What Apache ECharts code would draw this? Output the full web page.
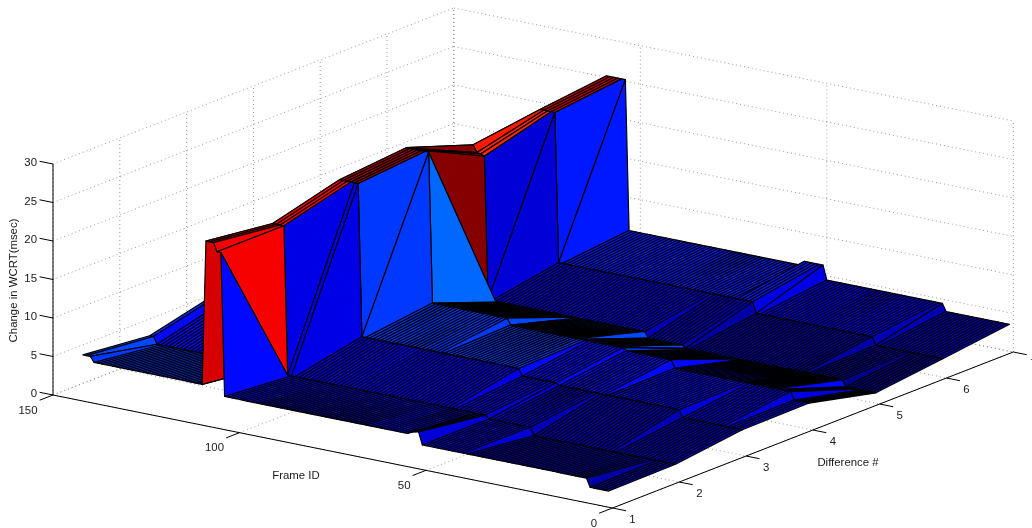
<!DOCTYPE html>
<html>
<head>
<meta charset="utf-8">
<style>html,body{margin:0;padding:0;background:#fff}#c{width:1032px;height:528px}</style>
<script src="https://cdn.jsdelivr.net/npm/echarts@6/dist/echarts.min.js"></script>
</head>
<body>
<div id="c"></div>
<script>
// ---- data: each row holds step starts (frame) and the level from that frame on
const frameMin = 1, frameMax = 142;
const differenceRows = [1, 2, 3, 4, 5, 6, 7];
const startsD1 = [0, 7, 52, 53, 54, 55, 105, 107, 110, 140];
const levelsD1 = [2.1, 3.2, 4.8, 4.7, 4.6, 4.3, 22.9, 24, 5.3, 6];
const startsD2 = [0, 40, 52, 106, 110, 141];
const levelsD2 = [2.2, 3.2, 3.6, 22.9, 4.2, 5.1];
const startsD3 = [0, 18, 51, 61, 104, 110, 141];
const levelsD3 = [3.3, 4.25, 4.5, 5.4, 25.2, 6.4, 7.2];
const startsD4 = [0, 6, 38, 51, 82, 103, 110];
const levelsD4 = [3.4, 4.4, 5.4, 5.7, 6.5, 26, 5];
const startsD5 = [0, 10, 53, 63, 106, 107, 108, 109, 110];
const levelsD5 = [1.35, 2.15, 2.5, 3.25, 21.8, 22, 22.1, 23, 4.5];
const startsD6 = [0, 20, 52, 105, 110];
const levelsD6 = [2.4, 3.4, 4.8, 24.2, 4.5];
const startsD7 = [0, 19, 51, 57, 104, 110];
const levelsD7 = [3.5, 4.45, 6.3, 5.7, 25.2, 5];
const frameTicks = [0, 50, 100, 150];
const differenceTicks = [1, 2, 3, 4, 5, 6, 7];
const wcrtTicks = [0, 5, 10, 15, 20, 25, 30];
const xTitle = 'Frame ID', yTitle = 'Difference #', zTitle = 'Change in WCRT(msec)';

// ---- view of the 3-D box (orthographic)
const view = {ox: 612.5, oy: 508, fx: -3.73, fy: -0.7533, dx: 66.8, dy: -26, zy: -7.7};
const project = (f, d, z) => [
  view.ox + view.fx * f + view.dx * (d - 1),
  view.oy + view.fy * f + view.dy * (d - 1) + view.zy * z
];
const rowStarts = [startsD1, startsD2, startsD3, startsD4, startsD5, startsD6, startsD7];
const rowLevels = [levelsD1, levelsD2, levelsD3, levelsD4, levelsD5, levelsD6, levelsD7];
function level(f, d) {
  const s = rowStarts[d - 1], l = rowLevels[d - 1];
  let v = l[0];
  for (let i = 0; i < s.length; i++) if (f >= s[i]) v = l[i];
  return v;
}
// jet colormap, 64 levels
const clim = [1, 26];
function jet(v) {
  let p = (v - clim[0]) / (clim[1] - clim[0]);
  p = Math.max(0, Math.min(1, p));
  p = (Math.floor(p * 63.999) + 0.5) / 64;
  const c = t => Math.round(255 * Math.max(0, Math.min(1, 1.5 - Math.abs(4 * t - 2))));
  return 'rgb(' + c(p - 0.25) + ',' + c(p) + ',' + c(p + 0.25) + ')';
}

// faces back to front
const faces = [];
for (let f = frameMax - 1; f >= frameMin; f--) {
  for (let d = differenceRows.length - 1; d >= 1; d--) faces.push([f, d]);
}
// guides
const fMaxBox = frameTicks[frameTicks.length - 1];
const dMin = differenceTicks[0], dMax = differenceTicks[differenceTicks.length - 1];
const zMaxBox = wcrtTicks[wcrtTicks.length - 1];
const dotted = [], solid = [];
wcrtTicks.forEach(z => {
  dotted.push([[fMaxBox, dMin, z], [fMaxBox, dMax, z]]);
  dotted.push([[fMaxBox, dMax, z], [0, dMax, z]]);
});
differenceTicks.forEach(d => {
  dotted.push([[fMaxBox, d, 0], [fMaxBox, d, zMaxBox]]);
  dotted.push([[fMaxBox, d, 0], [0, d, 0]]);
});
frameTicks.forEach(f => {
  dotted.push([[f, dMax, 0], [f, dMax, zMaxBox]]);
  dotted.push([[f, dMin, 0], [f, dMax, 0]]);
});
solid.push([[fMaxBox, dMin, 0], [fMaxBox, dMin, zMaxBox]]);
solid.push([[fMaxBox, dMin, 0], [0, dMin, 0]]);
solid.push([[0, dMin, 0], [0, dMax, 0]]);
const tickF = 3.6, tickD = 0.2;
wcrtTicks.forEach(z => solid.push([[fMaxBox, dMin, z], [fMaxBox + tickF, dMin, z]]));
frameTicks.forEach(f => solid.push([[f, dMin, 0], [f, dMin - tickD, 0]]));
differenceTicks.forEach(d => solid.push([[0, d, 0], [-tickF, d, 0]]));

const labelFont = '11.4px "Liberation Sans", Arial, sans-serif';
const labels = [];
wcrtTicks.forEach(z => {
  const p = project(fMaxBox, dMin, z);
  labels.push({t: String(z), p, ox: -16, oy: -1, align: 'right'});
});
frameTicks.forEach(f => {
  const p = project(f, dMin, 0);
  labels.push({t: String(f), p, ox: -15.5, oy: 15.5, align: 'right'});
});
differenceTicks.forEach(d => {
  const p = project(0, d, 0);
  labels.push({t: String(d), p, ox: 20, oy: 12, align: 'center'});
});
labels.push({t: xTitle, p: [296, 476], ox: 0, oy: 0, align: 'center'});
labels.push({t: yTitle, p: [848, 463], ox: 0, oy: 0, align: 'center'});
labels.push({t: zTitle, p: [14, 280.5], ox: 0, oy: 0, align: 'center', rot: Math.PI / 2});

const lineSeries = (list, style, z2) => ({
  type: 'custom', coordinateSystem: 'cartesian2d', silent: true, z: z2, clip: false,
  data: list.map((_, i) => [i]),
  encode: {x: 0, y: 0},
  renderItem(params, api) {
    const s = list[params.dataIndex];
    const a = api.coord(project(s[0][0], s[0][1], s[0][2]));
    const b = api.coord(project(s[1][0], s[1][1], s[1][2]));
    return {type: 'line', shape: {x1: a[0], y1: a[1], x2: b[0], y2: b[1]}, style};
  }
});

const chart = echarts.init(document.getElementById('c'), null, {renderer: 'canvas'});
chart.setOption({
  animation: false,
  backgroundColor: '#fff',
  grid: {left: 0, right: 0, top: 0, bottom: 0},
  xAxis: {type: 'value', min: 0, max: 1032, show: false},
  yAxis: {type: 'value', min: 0, max: 528, inverse: true, show: false},
  series: [
    lineSeries(dotted, {stroke: '#808080', lineWidth: 0.8, lineDash: [1, 3], fill: null}, 1),
    lineSeries(solid, {stroke: '#000', lineWidth: 1, fill: null}, 2),
    {
      type: 'custom', coordinateSystem: 'cartesian2d', silent: true, z: 3, clip: false,
      data: faces,
      encode: {x: 0, y: 1},
      renderItem(params, api) {
        const f = api.value(0), d = api.value(1);
        const corners = [[f, d], [f, d + 1], [f + 1, d + 1], [f + 1, d]];
        const pts = corners.map(c => api.coord(project(c[0], c[1], level(c[0], c[1]))));
        return {
          type: 'polygon', shape: {points: pts},
          style: {fill: jet(level(f, d)), stroke: '#000', lineWidth: 1.15, lineJoin: 'round'}
        };
      }
    },
    {
      type: 'custom', coordinateSystem: 'cartesian2d', silent: true, z: 4, clip: false,
      data: labels.map((_, i) => [i]),
      encode: {x: 0, y: 0},
      renderItem(params, api) {
        const l = labels[params.dataIndex];
        const c = api.coord(l.p);
        return {
          type: 'text', x: c[0] + l.ox, y: c[1] + l.oy, rotation: l.rot || 0,
          style: {text: l.t, font: labelFont, fill: '#1a1a1a', align: l.align, verticalAlign: 'middle'}
        };
      }
    }
  ]
});
</script>
</body>
</html>
